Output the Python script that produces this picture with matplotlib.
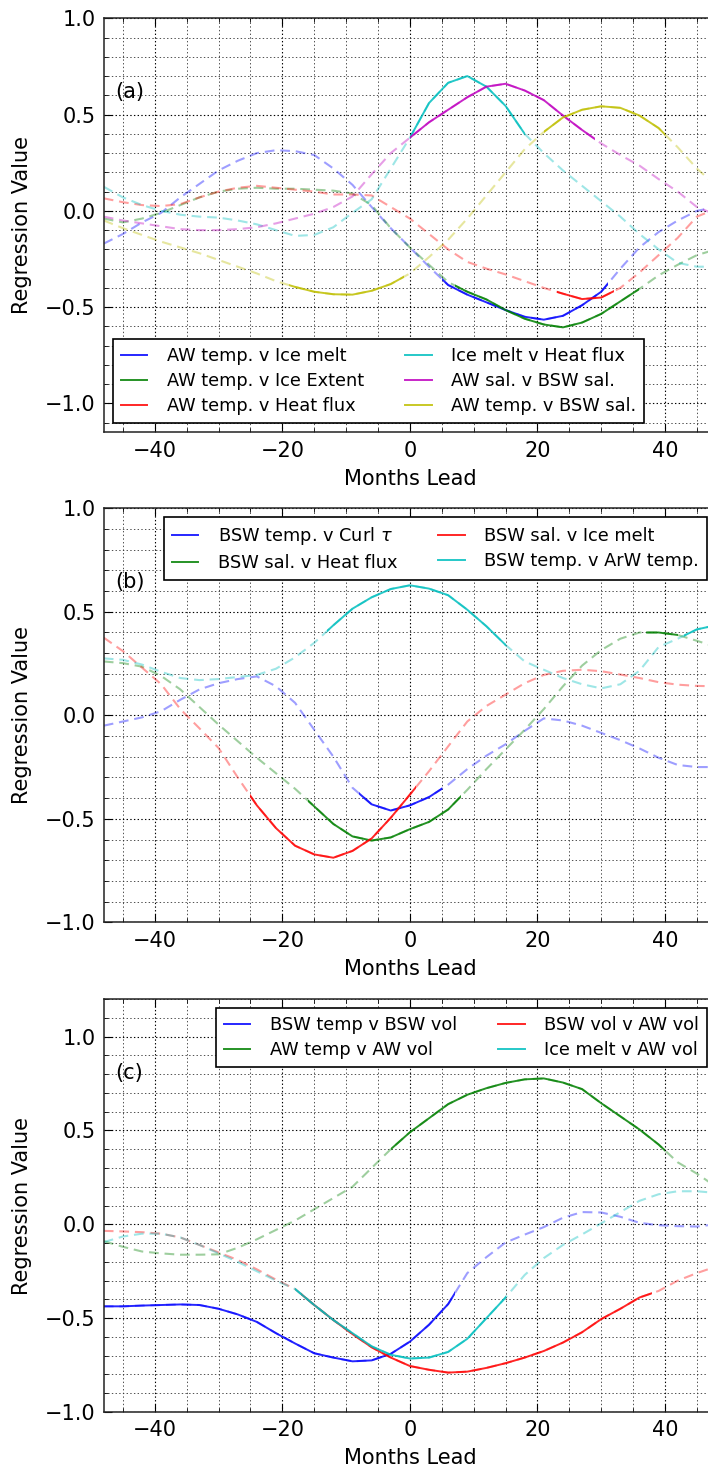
import numpy as np
import matplotlib
matplotlib.use('Agg')
from matplotlib import pyplot as plt
from matplotlib.patches import Rectangle
from matplotlib.lines import Line2D
from matplotlib.ticker import MultipleLocator

plt.rcParams['font.family'] = 'DejaVu Sans'
plt.rcParams['lines.scale_dashes'] = False

#%% data (lag in months, regression values)
lags = np.arange(-48, 49, 3)

# panel (a)
a_labels = ['AW temp. v Ice melt', 'AW temp. v Ice Extent', 'AW temp. v Heat flux',
            'Ice melt v Heat flux', 'AW sal. v BSW sal.', 'AW temp. v BSW sal.']
a_blue = [-0.17, -0.12, -0.06, -0.01, 0.07, 0.14, 0.21, 0.26, 0.30, 0.315, 0.31, 0.29, 0.22, 0.135, 0.02, -0.09,
          -0.19, -0.29, -0.385, -0.435, -0.475, -0.515, -0.55, -0.565, -0.545, -0.49, -0.42, -0.30, -0.19, -0.11, -0.05, 0.0, 0.02]
a_green = [-0.04, -0.06, -0.04, -0.01, 0.03, 0.07, 0.10, 0.115, 0.12, 0.115, 0.115, 0.11, 0.105, 0.09, 0.03, -0.09,
           -0.19, -0.28, -0.37, -0.42, -0.46, -0.515, -0.56, -0.59, -0.605, -0.58, -0.535, -0.47, -0.405, -0.335, -0.28, -0.23, -0.20]
a_red = [0.065, 0.045, 0.03, 0.025, 0.035, 0.07, 0.10, 0.12, 0.13, 0.12, 0.11, 0.10, 0.085, 0.085, 0.08, 0.02,
         -0.04, -0.12, -0.20, -0.265, -0.30, -0.33, -0.365, -0.40, -0.43, -0.458, -0.45, -0.40, -0.32, -0.23, -0.14, -0.03, 0.01]
a_cyan = [0.125, 0.07, 0.03, 0.0, -0.02, -0.03, -0.035, -0.05, -0.07, -0.10, -0.13, -0.125, -0.085, -0.01, 0.06, 0.22,
          0.38, 0.56, 0.665, 0.70, 0.645, 0.545, 0.40, 0.30, 0.21, 0.13, 0.05, -0.03, -0.12, -0.20, -0.27, -0.29, -0.29]
a_magenta = [-0.03, -0.05, -0.065, -0.08, -0.095, -0.10, -0.10, -0.095, -0.085, -0.065, -0.04, -0.015, 0.02, 0.075, 0.19, 0.30,
             0.38, 0.46, 0.525, 0.59, 0.645, 0.66, 0.625, 0.575, 0.495, 0.42, 0.35, 0.29, 0.235, 0.165, 0.10, 0.02, -0.02]
a_yellow = [-0.05, -0.09, -0.125, -0.16, -0.19, -0.22, -0.255, -0.29, -0.325, -0.365, -0.395, -0.42, -0.433, -0.435, -0.415, -0.38,
            -0.325, -0.24, -0.15, -0.04, 0.08, 0.20, 0.32, 0.41, 0.485, 0.525, 0.543, 0.535, 0.495, 0.43, 0.33, 0.22, 0.13]
a_sig = [[(5, 31)], [(7, 36)], [(23, 32)], [(0, 18)], [(0, 29)], [(-19, -1), (21, 40)]]

# panel (b)
b_labels = [r'BSW temp. v Curl $\tau$', 'BSW sal. v Heat flux', 'BSW sal. v Ice melt', 'BSW temp. v ArW temp.']
b_blue = [-0.05, -0.03, -0.01, 0.02, 0.075, 0.125, 0.155, 0.175, 0.188, 0.14, 0.06, -0.07, -0.20, -0.35, -0.43, -0.46,
          -0.435, -0.395, -0.335, -0.26, -0.195, -0.14, -0.075, -0.015, -0.025, -0.05, -0.085, -0.12, -0.16, -0.205, -0.24, -0.25, -0.25]
b_green = [0.26, 0.252, 0.235, 0.19, 0.125, 0.04, -0.045, -0.125, -0.205, -0.28, -0.355, -0.44, -0.525, -0.585, -0.605, -0.59,
           -0.55, -0.515, -0.455, -0.36, -0.26, -0.165, -0.07, 0.03, 0.14, 0.24, 0.315, 0.37, 0.40, 0.40, 0.388, 0.36, 0.33]
b_red = [0.375, 0.31, 0.23, 0.15, 0.03, -0.063, -0.158, -0.30, -0.435, -0.545, -0.63, -0.672, -0.688, -0.655, -0.595, -0.495,
         -0.383, -0.27, -0.15, -0.03, 0.045, 0.10, 0.155, 0.195, 0.215, 0.22, 0.213, 0.197, 0.18, 0.16, 0.148, 0.142, 0.14]
b_cyan = [0.275, 0.268, 0.245, 0.21, 0.18, 0.17, 0.175, 0.185, 0.195, 0.225, 0.28, 0.35, 0.435, 0.515, 0.57, 0.61,
          0.628, 0.612, 0.58, 0.51, 0.43, 0.34, 0.26, 0.22, 0.18, 0.15, 0.13, 0.15, 0.215, 0.33, 0.37, 0.415, 0.435]
b_sig = [[(-8, 5)], [(-16, 8), (37, 42)], [(-25, 1)], [(-13, 15), (43, 48)]]

# panel (c)
c_labels = ['BSW temp v BSW vol', 'AW temp v AW vol', 'BSW vol v AW vol', 'Ice melt v AW vol']
c_blue = [-0.437, -0.437, -0.433, -0.43, -0.427, -0.43, -0.45, -0.48, -0.52, -0.58, -0.635, -0.687, -0.71, -0.73, -0.725, -0.69,
          -0.625, -0.535, -0.425, -0.26, -0.175, -0.097, -0.055, -0.015, 0.035, 0.065, 0.063, 0.04, 0.008, -0.005, -0.01, -0.012, 0.0]
c_green = [-0.09, -0.12, -0.145, -0.155, -0.162, -0.162, -0.16, -0.125, -0.08, -0.03, 0.02, 0.08, 0.14, 0.20, 0.30, 0.40,
           0.49, 0.565, 0.64, 0.69, 0.725, 0.753, 0.772, 0.777, 0.755, 0.72, 0.645, 0.575, 0.505, 0.425, 0.33, 0.27, 0.20]
c_red = [-0.035, -0.038, -0.042, -0.05, -0.07, -0.11, -0.15, -0.19, -0.24, -0.295, -0.345, -0.43, -0.51, -0.585, -0.655, -0.71,
         -0.755, -0.775, -0.79, -0.785, -0.765, -0.74, -0.71, -0.675, -0.63, -0.575, -0.505, -0.45, -0.39, -0.355, -0.30, -0.26, -0.225]
c_cyan = [-0.095, -0.065, -0.05, -0.05, -0.07, -0.11, -0.155, -0.20, -0.25, -0.30, -0.345, -0.43, -0.51, -0.58, -0.65, -0.695,
          -0.715, -0.71, -0.68, -0.61, -0.50, -0.39, -0.27, -0.18, -0.11, -0.054, 0.005, 0.065, 0.125, 0.16, 0.176, 0.176, 0.167]
c_sig = [[(-48, 7)], [(-3, 40)], [(-17, 38)], [(-18, 15)]]

#%% set up figure
fig = plt.figure(figsize=(7.08, 14.75), dpi=100)
ax1 = plt.axes([0.1466, 0.7069, 0.8647, 0.2807])
ax2 = plt.axes([0.1466, 0.3747, 0.8647, 0.2807])
ax3 = plt.axes([0.1466, 0.0427, 0.8647, 0.2800])

dash = (0, (7, 4.2))


def draw_panel(ax, series, sigs, colors, labels, loc, tag, ylim):
    for vals, spans, col in zip(series, sigs, colors):
        ax.plot(lags, vals, color=col, ls=dash, lw=1.5, alpha=0.38)
        for s, e in spans:
            ln, = ax.plot(lags, vals, color=col, lw=1.4, alpha=0.85)
            ln.set_clip_path(Rectangle((s, -5), e - s, 10, transform=ax.transData))

    ax.set_xlim([-48, 48])
    ax.set_ylim(ylim)
    ax.xaxis.set_major_locator(MultipleLocator(20))
    ax.xaxis.set_minor_locator(MultipleLocator(5))
    ax.yaxis.set_major_locator(MultipleLocator(0.5))
    ax.yaxis.set_minor_locator(MultipleLocator(0.1))
    ax.grid(True, which='major', color='k', linestyle=':', linewidth=0.8)
    ax.grid(True, which='minor', color='#333333', linestyle=':', linewidth=0.6)
    ax.set_axisbelow(True)
    ax.tick_params(which='both', direction='in', top=True, right=True, labelsize=15, pad=6)
    ax.tick_params(which='major', length=6)
    ax.tick_params(which='minor', length=3)
    for sp in ax.spines.values():
        sp.set_linewidth(1.1)
        sp.set_color('#222222')
    ax.set_xlabel('Months Lead', fontsize=15)
    ax.set_ylabel('Regression Value', fontsize=15)
    ax.yaxis.set_label_coords(-0.118, 0.5)
    ax.xaxis.set_label_coords(0.5, -0.088)
    ax.text(0.018, 0.822, tag, transform=ax.transAxes, fontsize=15, va='center', ha='left')

    handles = [Line2D([], [], color=c, lw=1.4, alpha=0.85) for c in colors]
    leg = ax.legend(handles, labels, loc=loc, ncol=2, fontsize=12.8, handlelength=1.5,
                    handletextpad=1.1, columnspacing=2.3, labelspacing=0.4, borderpad=0.45,
                    fancybox=False, framealpha=1, edgecolor='k')
    leg.get_frame().set_linewidth(1.2)


draw_panel(ax1, [a_blue, a_green, a_red, a_cyan, a_magenta, a_yellow], a_sig,
           ['b', 'g', 'r', 'c', 'm', 'y'], a_labels, 'lower left', '(a)', [-1.15, 1.0])
draw_panel(ax2, [b_blue, b_green, b_red, b_cyan], b_sig,
           ['b', 'g', 'r', 'c'], b_labels, 'upper right', '(b)', [-1.0, 1.0])
draw_panel(ax3, [c_blue, c_green, c_red, c_cyan], c_sig,
           ['b', 'g', 'r', 'c'], c_labels, 'upper right', '(c)', [-1.0, 1.2])

plt.savefig('out.png', dpi=100)
